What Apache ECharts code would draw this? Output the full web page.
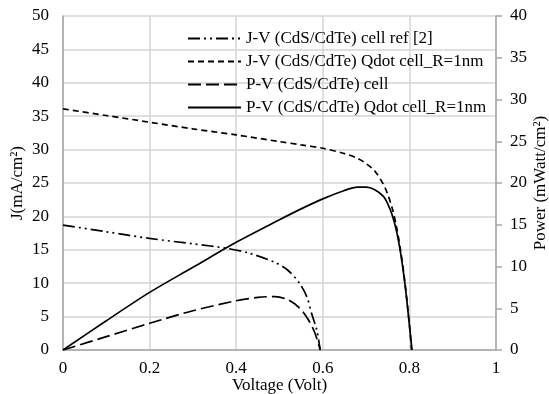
<!DOCTYPE html>
<html>
<head>
<meta charset="utf-8">
<script src="https://cdn.jsdelivr.net/npm/echarts@6/dist/echarts.min.js"></script>
<style>
  html, body { margin: 0; padding: 0; background: #fff; }
  #chart { width: 549px; height: 394px; }
</style>
</head>
<body>
<div id="chart"></div>
<script>
// series names
var names = [
  'J-V (CdS/CdTe) cell ref [2]',
  'J-V (CdS/CdTe) Qdot cell_R=1nm',
  'P-V (CdS/CdTe) cell',
  'P-V (CdS/CdTe) Qdot cell_R=1nm'
];

// J-V reference cell (mA/cm2)
var vRefJ = [0, 0.1, 0.2, 0.3, 0.38, 0.43, 0.49, 0.52, 0.545, 0.563, 0.574, 0.586, 0.594];
var jRef  = [18.7, 17.7, 16.7, 15.9, 15.2, 14.5, 13.1, 11.9, 10.1, 8.0, 5.5, 3.0, 0];

// J-V qdot cell (mA/cm2)
var vQdJ = [0, 0.1, 0.2, 0.3, 0.4, 0.5, 0.55, 0.6, 0.65, 0.68, 0.7, 0.72, 0.74, 0.75, 0.76, 0.77, 0.78, 0.79, 0.8, 0.805];
var jQd  = [36.1, 35.1, 34.1, 33.1, 32.2, 31.2, 30.7, 30.2, 29.4, 28.7, 27.9, 26.8, 24.8, 23.3, 21.3, 18.5, 14.8, 9.9, 3.8, 0];

// P-V reference cell (mW/cm2)
var vRefP = [0, 0.1, 0.2, 0.3, 0.4, 0.45, 0.49, 0.52, 0.547, 0.567, 0.582, 0.594];
var pRef  = [0, 1.6, 3.2, 4.7, 5.9, 6.3, 6.4, 6.0, 5.0, 3.6, 2.0, 0];

// P-V qdot cell (mW/cm2)
var vQdP = [0, 0.1, 0.2, 0.3, 0.4, 0.5, 0.55, 0.6, 0.65, 0.68, 0.7, 0.72, 0.74, 0.75, 0.76, 0.77, 0.78, 0.79, 0.8, 0.806];
var pQd  = [0, 3.5, 6.9, 9.9, 12.9, 15.6, 16.9, 18.1, 19.1, 19.5, 19.5, 19.2, 18.4, 17.5, 16.2, 14.3, 11.5, 7.8, 3.0, 0];

function zip(xs, ys) {
  return xs.map(function (x, i) { return [x, ys[i]]; });
}

var font = '"Liberation Serif", "Times New Roman", serif';
var fs = 17;
var gridColor = '#d4d4d4';
var axisColor = '#a6a6a6';

function line(name, data, yIndex, type) {
  return {
    name: name,
    type: 'line',
    yAxisIndex: yIndex,
    data: data,
    symbol: 'none',
    smooth: 0.3,
    lineStyle: { color: '#000', width: 1.7, type: type },
    itemStyle: { color: '#000' }
  };
}

var chart = echarts.init(document.getElementById('chart'));
chart.setOption({
  backgroundColor: '#fff',
  animation: false,
  grid: { left: 63, right: 53, top: 16, bottom: 44, outerBoundsMode: 'none', containLabel: false },
  legend: {
    orient: 'vertical',
    left: 182,
    top: 25,
    itemWidth: 53,
    itemHeight: 14,
    itemGap: 6,
    itemStyle: { opacity: 0 },
    textStyle: { fontFamily: font, fontSize: fs, color: '#000' },
    data: names
  },
  xAxis: {
    type: 'value',
    min: 0,
    max: 1,
    interval: 0.2,
    name: 'Voltage (Volt)',
    nameLocation: 'middle',
    nameGap: 27,
    nameMoveOverlap: false,
    nameTextStyle: { fontFamily: font, fontSize: fs, color: '#000' },
    axisLine: { lineStyle: { color: axisColor, width: 1.5 } },
    axisTick: { show: false },
    axisLabel: { fontFamily: font, fontSize: fs, color: '#000', margin: 10 },
    splitLine: { show: true, lineStyle: { color: gridColor, width: 1.5 } }
  },
  yAxis: [
    {
      type: 'value',
      min: 0,
      max: 50,
      interval: 5,
      name: 'J(mA/cm²)',
      nameLocation: 'middle',
      nameGap: 37,
      nameMoveOverlap: false,
      nameTextStyle: { fontFamily: font, fontSize: fs, color: '#000' },
      axisLine: { show: true, lineStyle: { color: axisColor, width: 1.5 } },
      axisTick: { show: false },
      axisLabel: { fontFamily: font, fontSize: fs, color: '#000', margin: 14 },
      splitLine: { show: true, lineStyle: { color: gridColor, width: 1.5 } }
    },
    {
      type: 'value',
      min: 0,
      max: 40,
      interval: 5,
      position: 'right',
      name: 'Power (mWatt/cm²)',
      nameLocation: 'middle',
      nameGap: 36,
      nameRotate: 90,
      nameMoveOverlap: false,
      nameTextStyle: { fontFamily: font, fontSize: fs, color: '#000' },
      axisLine: { show: true, lineStyle: { color: axisColor, width: 1.5 } },
      axisTick: { show: true, length: 6, lineStyle: { color: axisColor, width: 1.5 } },
      axisLabel: { fontFamily: font, fontSize: fs, color: '#000', margin: 14 },
      splitLine: { show: false }
    }
  ],
  series: [
    line(names[0], zip(vRefJ, jRef), 0, [12, 4, 2, 4, 2, 4]),
    line(names[1], zip(vQdJ, jQd), 0, [6, 4]),
    line(names[2], zip(vRefP, pRef), 1, [13, 5]),
    line(names[3], zip(vQdP, pQd), 1, 'solid')
  ]
});
</script>
</body>
</html>
